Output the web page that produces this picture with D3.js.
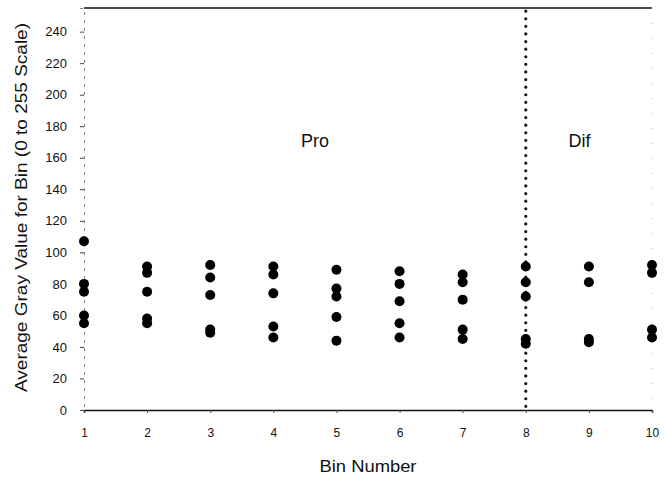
<!DOCTYPE html>
<html><head><meta charset="utf-8">
<script src="https://cdn.jsdelivr.net/npm/d3@7"></script>
<style>body{margin:0;background:#fff}svg{display:block}text{font-family:"Liberation Sans",Arial,sans-serif;fill:#111}</style>
</head><body><div id="chart"></div>
<script>
const bins = [1,2,3,4,5,6,7,8,9,10];
const values = [
  [107, 80, 75, 60, 55],
  [91, 87, 75, 58, 55],
  [92, 84, 73, 51, 49],
  [91, 86, 74, 53, 46],
  [89, 77, 72, 59, 44],
  [88, 80, 69, 55, 46],
  [86, 81, 70, 51, 45],
  [91, 81, 72, 45, 42],
  [91, 81, 45, 43],
  [92, 87, 51, 46]
];
const yTicks = [0,20,40,60,80,100,120,140,160,180,200,220,240];
const regionLabels = [{text:"Pro", bin:4.66}, {text:"Dif", bin:8.85}];
const dividerBin = 8;

const W = 668, H = 481;
const svg = d3.select("#chart").append("svg").attr("width", W).attr("height", H);
const x = d3.scaleLinear().domain([1,10]).range([84,652]);
const y = d3.scaleLinear().domain([0,255]).range([410,8]);

// top frame line
svg.append("line").attr("x1",x(1)).attr("x2",x(10)).attr("y1",y(255)).attr("y2",y(255))
  .attr("stroke","#111").attr("stroke-width",1.5);
// right faint frame
svg.append("line").attr("x1",x(10)).attr("x2",x(10)).attr("y1",y(255)).attr("y2",y(0))
  .attr("stroke","#bbb").attr("stroke-width",1).attr("stroke-dasharray","1 14");

// y axis
const yAxis = d3.axisLeft(y).tickValues(yTicks).tickSize(4).tickPadding(13);
const gy = svg.append("g").attr("transform",`translate(${x(1)},0)`).call(yAxis);
gy.select(".domain").attr("stroke","#888").attr("stroke-dasharray","3 5");
gy.selectAll(".tick line").attr("stroke","#444");
gy.selectAll(".tick text").attr("font-size",13).attr("fill","#111");

// x axis
const xAxis = d3.axisBottom(x).tickValues(bins).tickSize(3).tickPadding(15).tickFormat(d3.format("d"));
const gx = svg.append("g").attr("transform",`translate(0,${y(0)})`).call(xAxis);
gx.select(".domain").attr("stroke","#111").attr("stroke-width",1.5);
gx.selectAll(".tick line").attr("stroke","#555");
gx.selectAll(".tick text").attr("font-size",12).attr("fill","#111");

// divider
svg.append("line").attr("x1",x(dividerBin)).attr("x2",x(dividerBin)).attr("y1",y(253)).attr("y2",y(2))
  .attr("stroke","#111").attr("stroke-width",3.2).attr("stroke-linecap","round").attr("stroke-dasharray","0 7.6");

// points
const pts = [];
bins.forEach((b,i)=>values[i].forEach(v=>pts.push({b,v})));
svg.append("g").selectAll("circle").data(pts).join("circle")
  .attr("cx",d=>x(d.b)).attr("cy",d=>y(d.v)).attr("r",5).attr("fill","#000");

// region labels
svg.append("g").selectAll("text").data(regionLabels).join("text")
  .attr("x",d=>x(d.bin)).attr("y",147).attr("text-anchor","middle")
  .attr("font-size",18).text(d=>d.text);

// axis titles
svg.append("text").attr("x",368).attr("y",472).attr("text-anchor","middle").attr("font-size",17)
  .attr("textLength",97).attr("lengthAdjust","spacingAndGlyphs").text("Bin Number");
svg.append("text").attr("transform","translate(27,207.5) rotate(-90)").attr("text-anchor","middle")
  .attr("font-size",16).attr("textLength",369).attr("lengthAdjust","spacingAndGlyphs")
  .text("Average Gray Value for Bin (0 to 255 Scale)");
</script></body></html>
